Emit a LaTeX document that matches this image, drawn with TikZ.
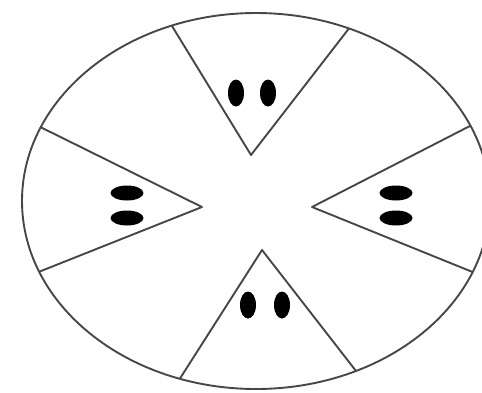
\documentclass[tikz,border=0pt]{standalone}
\usetikzlibrary{calc}
\tikzset{
  edge/.style={draw=black!72, line width=1.9pt, line join=round},
  blobv/.style={fill=black},
}
\begin{document}
\begin{tikzpicture}[x=1pt,y=-1pt]
\useasboundingbox (0,0) rectangle (482,392);
\fill[white] (0,0) rectangle (482,392);
\clip (0,0) rectangle (482,392);
\coordinate (c) at (256,201);
% outer ellipse
\draw[edge] (c) ellipse [x radius=234, y radius=188];
% points on the ellipse
\coordinate (tl) at ($(c)+(-111.1:234 and 188)$);
\coordinate (tr) at ($(c)+(-66.6:234 and 188)$);
\coordinate (rt) at ($(c)+(-23.6:234 and 188)$);
\coordinate (rb) at ($(c)+(22.2:234 and 188)$);
\coordinate (br) at ($(c)+(64.7:234 and 188)$);
\coordinate (bl) at ($(c)+(109:234 and 188)$);
\coordinate (lb) at ($(c)+(157.9:234 and 188)$);
\coordinate (lt) at ($(c)+(203.1:234 and 188)$);
% apexes
\coordinate (ta) at (251,155);
\coordinate (la) at (202,207);
\coordinate (ra) at (312,207);
\coordinate (ba) at (262,250);
% wedges
\draw[edge] (tl) -- (ta) -- (tr);
\draw[edge] (lt) -- (la) -- (lb);
\draw[edge] (rt) -- (ra) -- (rb);
\draw[edge] (bl) -- (ba) -- (br);
% dots
\fill[blobv] (236,93) ellipse [x radius=8, y radius=13.5];
\fill[blobv] (268,93) ellipse [x radius=8, y radius=13.5];
\fill[blobv] (248,305) ellipse [x radius=8, y radius=13.5];
\fill[blobv] (282,305) ellipse [x radius=8, y radius=13.5];
\fill[blobv] (127,193) ellipse [x radius=16.5, y radius=7.5];
\fill[blobv] (127,218) ellipse [x radius=16.5, y radius=7.5];
\fill[blobv] (396,193) ellipse [x radius=16.5, y radius=7.5];
\fill[blobv] (396,218) ellipse [x radius=16.5, y radius=7.5];
\end{tikzpicture}
\end{document}
